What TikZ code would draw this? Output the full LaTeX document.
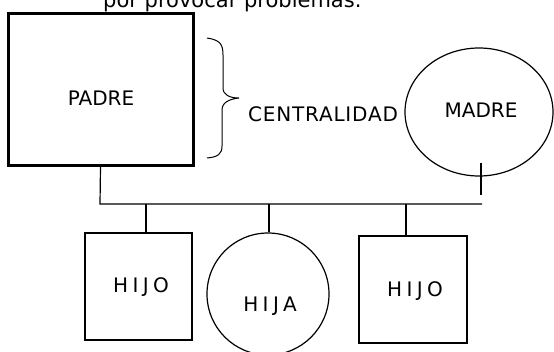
\documentclass[tikz,border=0pt]{standalone}
\usepackage{fontspec}
\setmainfont{DejaVu Sans}
\usetikzlibrary{shapes.geometric}
\tikzset{
  lbl/.style={font=\fontsize{20}{24}\selectfont, inner sep=0pt},
  wide/.style={font=\fontsize{20}{24}\selectfont\addfontfeatures{LetterSpace=22}, inner sep=0pt},
  thinbox/.style={draw, line width=1.2pt, rectangle, inner sep=0pt},
  thickbox/.style={draw, line width=3pt, rectangle, inner sep=0pt},
  ring/.style={draw, line width=1.2pt, ellipse, inner sep=0pt},
  wire/.style={line width=1.2pt},
}
\begin{document}
\begin{tikzpicture}[x=1pt,y=-1pt]
\useasboundingbox[fill=white] (0,0) rectangle (554,351);
% cut-off heading
\node[font=\fontsize{21}{24}\selectfont, inner sep=0pt, anchor=base west] (head) at (103,7) {por provocar problemas.};
% PADRE
\node[thickbox, minimum width=185pt, minimum height=152pt] (padre) at (100.5,89) {};
\node[lbl] (padretxt) at (101,98) {PADRE};
% brace
\draw[wire, line width=1pt] (207,38) .. controls (220,40) and (223,44) .. (223,55)
  -- (223,88) .. controls (223,95) and (230,98) .. (239,98)
  .. controls (230,99) and (222,102) .. (222,110)
  -- (222,146) .. controls (222,154) and (218,157) .. (207,158);
\node[lbl, anchor=west, font=\fontsize{20}{24}\selectfont\addfontfeatures{LetterSpace=4}] (central) at (248,114) {CENTRALIDAD};
% MADRE
\node[ring, minimum width=148pt, minimum height=128pt] (madre) at (479,112) {};
\node[lbl] (madretxt) at (481,110) {MADRE};
\coordinate (m1) at (481,163);
\coordinate (m2) at (481,195);
\draw[wire] (m1) -- (m2);
% bus
\coordinate (bl) at (100,204);
\coordinate (br) at (482,204);
\draw[wire] (padre.south) -- (bl) -- (br);
% children
\node[thinbox, minimum width=107pt, minimum height=107pt] (hijo1) at (138.5,286.5) {};
\node[wide] (hijo1txt) at (141,287) {HIJO};
\node[ring, minimum width=122pt, minimum height=122pt] (hija) at (268,294) {};
\node[wide] (hijatxt) at (270,306) {HIJA};
\node[thinbox, minimum width=108pt, minimum height=107pt] (hijo2) at (413,289.5) {};
\node[wide] (hijo2txt) at (415,291) {HIJO};
\coordinate (b1) at (146,204);
\coordinate (b2) at (269,204);
\coordinate (b3) at (406,204);
\draw[wire] (b1) -- (b1 |- hijo1.north);
\draw[wire] (b2) -- (b2 |- hija.north);
\draw[wire] (b3) -- (b3 |- hijo2.north);
\end{tikzpicture}
\end{document}
